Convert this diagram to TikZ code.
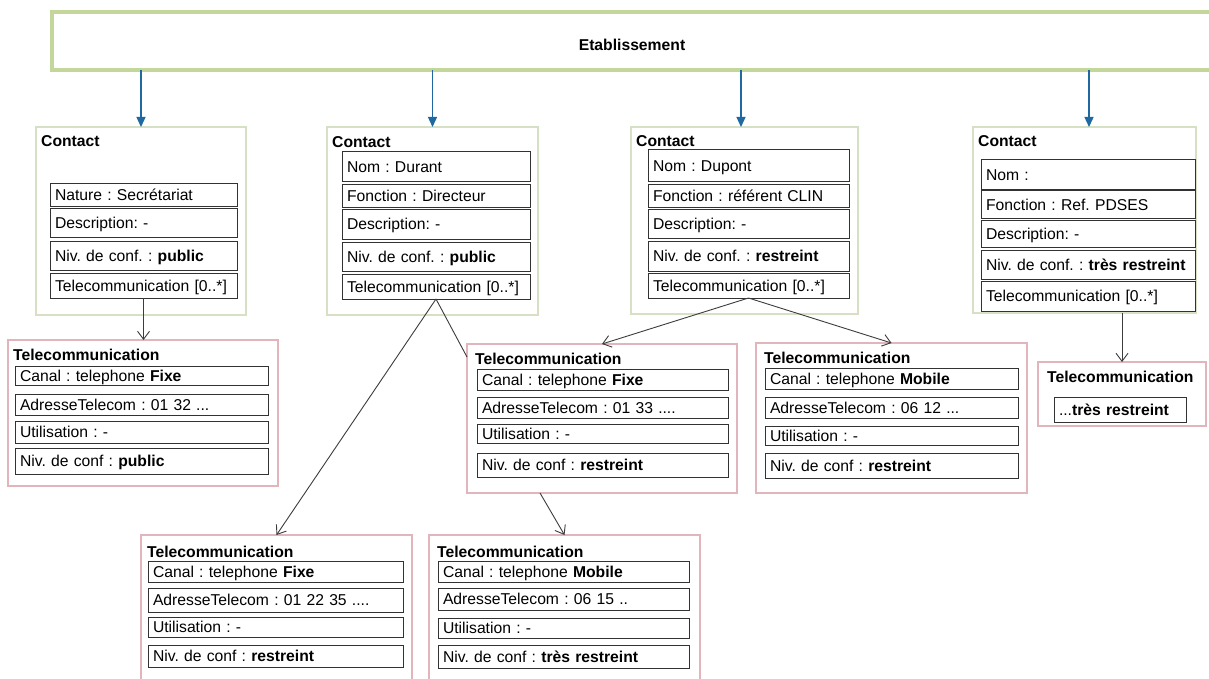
\documentclass[tikz,border=0pt]{standalone}
\usepackage{fontspec}
\setmainfont{Liberation Sans}
\usetikzlibrary{arrows.meta}
\frenchspacing
\definecolor{egreen}{RGB}{196,215,155}
\definecolor{cgreen}{RGB}{214,224,196}
\definecolor{tpink}{RGB}{226,180,188}
\definecolor{ablue}{RGB}{31,105,160}
\definecolor{cellc}{RGB}{50,50,50}
\definecolor{connc}{RGB}{60,60,60}
\newcommand\mainfs{\fontsize{15.7}{18}\selectfont\frenchspacing}
\newcommand\cellnode[6]{%
  \pgfmathsetmacro\cellw{#4-#2-10}%
  \pgfmathsetmacro\cellh{#5-#3}%
  \node[cell,text width=\cellw pt,minimum height=\cellh pt] (#1) at (#2,#3) {\mbox{#6}};}
\newcommand\boxnode[6]{%
  \pgfmathsetmacro\boxw{#4-#2}%
  \pgfmathsetmacro\boxh{#5-#3}%
  \node[#6,minimum width=\boxw pt,minimum height=\boxh pt,anchor=north west,inner sep=0pt,outer sep=0pt] (#1) at (#2,#3) {};}
\begin{document}
\begin{tikzpicture}[x=1pt,y=-1pt,
  cell/.style={draw=cellc,line width=1.0pt,anchor=north west,inner xsep=5pt,inner ysep=0pt,outer sep=0pt,align=left,text height=11pt,text depth=0pt,font=\mainfs},
  contactbox/.style={draw=cgreen,line width=1.2pt,fill=white},
  telebox/.style={draw=tpink,line width=1.2pt,fill=white},
  ebox/.style={draw=egreen,line width=4pt,fill=white,font=\mainfs\bfseries,inner sep=0pt,outer sep=0pt,anchor=north west,text height=11pt,text depth=0pt},
  title/.style={anchor=base west,inner sep=0pt,font=\mainfs\bfseries},
  bluearrow/.style={draw=ablue,line width=1.3pt,-{Triangle[length=10pt,width=9pt]}},
  conn/.style={draw=connc,line width=0.9pt,-{Straight Barb[length=8pt,width=12pt]}},
  plainconn/.style={draw=connc,line width=0.9pt}]
\fill[white] (0,0) rectangle (1209,679);
\clip (0,0) rectangle (1209,679);

% Etablissement
\node[ebox,minimum width=1160pt,minimum height=58pt] (E) at (52,12) {\raisebox{-4pt}{Etablissement}};

% Contact 1
\boxnode{C1}{36}{127}{246}{315}{contactbox}
\node[title] (C1t) at (41,147) {Contact};
\cellnode{c1a}{50}{184}{237}{206}{Nature : Secrétariat}
\cellnode{c1b}{50}{208}{237}{237}{Description: -}
\cellnode{c1c}{50}{241}{237}{270}{Niv. de conf. : \textbf{public}}
\cellnode{c1d}{50}{273}{237}{298}{Telecommunication [0..*]}

% Contact 2
\boxnode{C2}{327}{127}{538}{315}{contactbox}
\node[title] (C2t) at (332,148) {Contact};
\cellnode{c2a}{342}{152}{530}{182}{Nom : Durant}
\cellnode{c2b}{342}{185}{530}{207}{Fonction : Directeur}
\cellnode{c2c}{342}{209}{530}{239}{Description: -}
\cellnode{c2d}{342}{242}{530}{271}{Niv. de conf. : \textbf{public}}
\cellnode{c2e}{342}{274}{530}{299}{Telecommunication [0..*]}

% Contact 3
\boxnode{C3}{631}{127}{858}{314}{contactbox}
\node[title] (C3t) at (636,147) {Contact};
\cellnode{c3a}{648}{150}{849}{182}{Nom : Dupont}
\cellnode{c3b}{648}{185}{849}{207}{Fonction : référent CLIN}
\cellnode{c3c}{648}{209}{849}{238}{Description: -}
\cellnode{c3d}{648}{241}{849}{271}{Niv. de conf. : \textbf{restreint}}
\cellnode{c3e}{648}{273}{849}{298}{Telecommunication [0..*]}

% Contact 4
\boxnode{C4}{973}{127}{1196}{313}{contactbox}
\node[title] (C4t) at (978,147) {Contact};
\cellnode{c4a}{981}{160}{1195}{190}{Nom :}
\cellnode{c4b}{981}{191}{1195}{218}{Fonction : Ref. PDSES}
\cellnode{c4c}{981}{220}{1195}{247}{Description: -}
\cellnode{c4d}{981}{250}{1195}{279}{Niv. de conf. : \textbf{très restreint}}
\cellnode{c4e}{981}{281}{1195}{311}{Telecommunication [0..*]}

% Telecommunication 1
\boxnode{T1}{8}{340}{278}{486}{telebox}
\node[title] (T1t) at (13,360) {Telecommunication};
\cellnode{t1a}{15}{366}{268}{385}{Canal : telephone \textbf{Fixe}}
\cellnode{t1b}{15}{394}{268}{415}{AdresseTelecom : 01 32 ...}
\cellnode{t1c}{15}{421}{268}{443}{Utilisation : -}
\cellnode{t1d}{15}{448}{268}{474}{Niv. de conf : \textbf{public}}

% Telecommunication 3
\boxnode{T3}{467}{344}{737}{493}{telebox}
\node[title] (T3t) at (475,364) {Telecommunication};
\cellnode{t3a}{477}{369}{728}{390}{Canal : telephone \textbf{Fixe}}
\cellnode{t3b}{477}{397}{728}{418}{AdresseTelecom : 01 33 ....}
\cellnode{t3c}{477}{424}{728}{443}{Utilisation : -}
\cellnode{t3d}{477}{453}{728}{477}{Niv. de conf : \textbf{restreint}}

% Telecommunication 4
\boxnode{T4}{756}{343}{1027}{493}{telebox}
\node[title] (T4t) at (764,363) {Telecommunication};
\cellnode{t4a}{765}{368}{1018}{389}{Canal : telephone \textbf{Mobile}}
\cellnode{t4b}{765}{397}{1018}{418}{AdresseTelecom : 06 12 ...}
\cellnode{t4c}{765}{426}{1018}{445}{Utilisation : -}
\cellnode{t4d}{765}{453}{1018}{478}{Niv. de conf : \textbf{restreint}}

% Telecommunication 5
\boxnode{T5}{1038}{362}{1206}{426}{telebox}
\node[title] (T5t) at (1047,382) {Telecommunication};
\cellnode{t5a}{1054}{397}{1186}{422}{...\textbf{très restreint}}

% Telecommunication 2
\boxnode{T2}{141}{535}{412}{700}{telebox}
\node[title] (T2t) at (147,557) {Telecommunication};
\cellnode{t2a}{148}{561}{403}{582}{Canal : telephone \textbf{Fixe}}
\cellnode{t2b}{148}{588}{403}{612}{AdresseTelecom : 01 22 35 ....}
\cellnode{t2c}{148}{617}{403}{637}{Utilisation : -}
\cellnode{t2d}{148}{645}{403}{667}{Niv. de conf : \textbf{restreint}}

% Telecommunication 6
\boxnode{T6}{429}{535}{700}{700}{telebox}
\node[title] (T6t) at (437,557) {Telecommunication};
\cellnode{t6a}{438}{561}{689}{582}{Canal : telephone \textbf{Mobile}}
\cellnode{t6b}{438}{588}{689}{610}{AdresseTelecom : 06 15 ..}
\cellnode{t6c}{438}{618}{689}{638}{Utilisation : -}
\cellnode{t6d}{438}{645}{689}{668}{Niv. de conf : \textbf{très restreint}}

% blue arrows
\draw[bluearrow] (E.south -| C1.north) -- (C1.north);
\draw[bluearrow] (E.south -| C2.north) -- (C2.north);
\draw[bluearrow] ([xshift=-3.5pt]E.south -| C3.north) -- ([xshift=-3.5pt]C3.north);
\draw[bluearrow] ([xshift=4.5pt]E.south -| C4.north) -- ([xshift=4.5pt]C4.north);

% connectors
\draw[conn] (c1d.south) -- (T1.north -| c1d.south);
\draw[conn] (c2e.south) -- (T2.north);
\draw[plainconn] (c2e.south) -- ([yshift=-13pt]T3.north west);
\draw[conn] (c3e.south) -- (T3.north);
\draw[conn] (c3e.south) -- (T4.north);
\draw[conn] ([xshift=73pt]T3.south west) -- (T6.north);
\draw[conn] (C4.south -| T5.north) -- (T5.north);
\end{tikzpicture}
\end{document}
